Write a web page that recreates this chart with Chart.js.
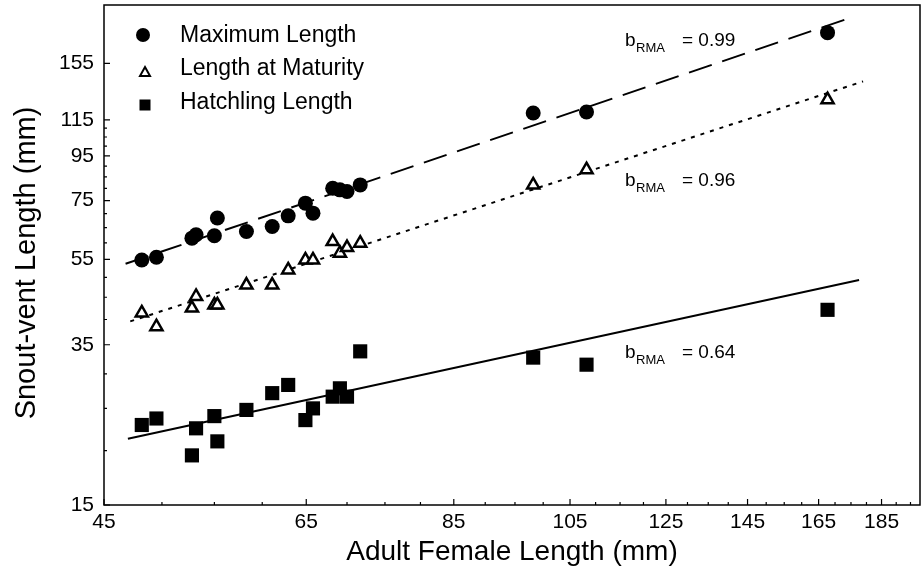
<!DOCTYPE html>
<html>
<head>
<meta charset="utf-8">
<script src="https://cdn.jsdelivr.net/npm/chart.js@4.4.1/dist/chart.umd.min.js"></script>
<style>
  html, body { margin: 0; padding: 0; background: #fff; overflow: hidden; }
  #wrap { width: 923px; height: 579px; }
  canvas { display: block; }
</style>
</head>
<body>
<div id="wrap"><canvas id="chart" width="923" height="579"></canvas></div>
<script>
// one value per species (mm)
const femaleLength = [48.2, 49.5, 52.8, 53.2, 55.0, 55.3, 58.3, 61.1, 62.9, 64.9, 65.8, 68.2, 69.1, 70.0, 71.7, 98.2, 108.2, 167.7];
const maxLength = [54.8, 55.6, 61.5, 62.6, 62.3, 68.4, 63.7, 65.4, 69.2, 74.0, 70.2, 80.1, 79.4, 78.7, 81.5, 119.2, 119.8, 182.3];
const maturityLength = [41.4, 38.5, 42.5, 45.2, 43.2, 43.2, 48.0, 48.0, 52.0, 54.8, 54.8, 60.4, 56.8, 58.5, 59.9, 81.5, 88.3, 127.9];
const hatchlingLength = [22.9, 23.7, 19.5, 22.5, 24.0, 21.0, 24.8, 27.1, 28.3, 23.5, 25.0, 26.6, 27.8, 26.6, 33.8, 32.7, 31.5, 42.1];

// RMA fit lines, end points
const maxFitX = [46.8, 174.7];
const maxFitY = [53.7, 197.0];
const matFitX = [47.2, 178.9];
const matFitY = [39.6, 140.9];
const hatchFitX = [47.0, 177.6];
const hatchFitY = [21.3, 49.3];

const slopes = ['0.99', '0.96', '0.64'];
const seriesNames = ['Maximum Length', 'Length at Maturity', 'Hatchling Length'];

const xTickValues = [45, 65, 85, 105, 125, 145, 165, 185];
const yTickValues = [15, 35, 55, 75, 95, 115, 155];

const FONT = "'Liberation Sans', Arial, sans-serif";

function pts(xs, ys) {
  return xs.map((x, i) => ({ x: x, y: ys[i] }));
}

// minor ticks every 5 mm
const xMinor = [];
for (let v = 50; v <= 195; v += 5) if (!xTickValues.includes(v)) xMinor.push(v);
const yMinor = [];
for (let v = 20; v <= 110; v += 5) if (!yTickValues.includes(v)) yMinor.push(v);

const frameAndTicks = {
  id: 'frameAndTicks',
  afterDraw(chart) {
    const { ctx, chartArea: a, scales } = chart;
    const x = scales.x, y = scales.y;
    ctx.save();
    ctx.strokeStyle = '#000';
    ctx.lineWidth = 1.5;
    ctx.strokeRect(a.left, a.top, a.right - a.left, a.bottom - a.top);

    // ticks point inward
    ctx.lineWidth = 1.2;
    ctx.beginPath();
    xMinor.forEach(v => { const p = x.getPixelForValue(v); ctx.moveTo(p, a.bottom); ctx.lineTo(p, a.bottom - 3); });
    xTickValues.forEach(v => { const p = x.getPixelForValue(v); ctx.moveTo(p, a.bottom); ctx.lineTo(p, a.bottom - 6); });
    yMinor.forEach(v => { const p = y.getPixelForValue(v); ctx.moveTo(a.left, p); ctx.lineTo(a.left + 3, p); });
    yTickValues.forEach(v => { const p = y.getPixelForValue(v); ctx.moveTo(a.left, p); ctx.lineTo(a.left + 6, p); });
    ctx.stroke();

    // y title, a bit below the centre like the original
    ctx.fillStyle = '#000';
    ctx.save();
    ctx.translate(27, 263);
    ctx.rotate(-Math.PI / 2);
    ctx.font = '29px ' + FONT;
    ctx.textAlign = 'center';
    ctx.textBaseline = 'middle';
    ctx.fillText('Snout-vent Length (mm)', 0, 0);
    ctx.restore();

    // legend (top left, inside the plot)
    ctx.beginPath();
    ctx.arc(143, 35, 7, 0, Math.PI * 2);
    ctx.fill();
    ctx.lineWidth = 2;
    ctx.beginPath();
    ctx.moveTo(145, 67);
    ctx.lineTo(150, 76);
    ctx.lineTo(140, 76);
    ctx.closePath();
    ctx.stroke();
    ctx.fillRect(139.5, 99.5, 11, 11);

    ctx.font = '23px ' + FONT;
    ctx.textAlign = 'left';
    ctx.textBaseline = 'alphabetic';
    [42, 75, 109].forEach((b, i) => ctx.fillText(seriesNames[i], 180, b));

    // slope notes
    [45.5, 186, 358].forEach((b, i) => {
      ctx.font = '19px ' + FONT;
      ctx.fillText('b', 625, b);
      ctx.font = '13px ' + FONT;
      ctx.fillText('RMA', 636, b + 6);
      ctx.font = '19px ' + FONT;
      ctx.fillText('= ' + slopes[i], 682, b);
    });
    ctx.restore();
  }
};

new Chart(document.getElementById('chart'), {
  type: 'scatter',
  data: {
    datasets: [
      { label: seriesNames[0], data: pts(femaleLength, maxLength), pointStyle: 'circle', pointRadius: 7.5,
        backgroundColor: '#000', borderColor: '#000', borderWidth: 0 },
      { label: seriesNames[1], data: pts(femaleLength, maturityLength), pointStyle: 'triangle', pointRadius: 7,
        backgroundColor: '#fff', borderColor: '#000', borderWidth: 2.5 },
      { label: seriesNames[2], data: pts(femaleLength, hatchlingLength), pointStyle: 'rect', pointRadius: 10,
        backgroundColor: '#000', borderColor: '#000', borderWidth: 0 },
      { type: 'line', data: pts(maxFitX, maxFitY), showLine: true, pointRadius: 0, borderColor: '#000',
        borderWidth: 2, borderDash: [24, 11], fill: false },
      { type: 'line', data: pts(matFitX, matFitY), showLine: true, pointRadius: 0, borderColor: '#000',
        borderWidth: 2, borderDash: [4, 6], fill: false },
      { type: 'line', data: pts(hatchFitX, hatchFitY), showLine: true, pointRadius: 0, borderColor: '#000',
        borderWidth: 2, fill: false }
    ]
  },
  options: {
    responsive: false,
    animation: false,
    events: [],
    layout: { autoPadding: false, padding: { top: 5, right: 3, left: 0, bottom: 0 } },
    plugins: { legend: { display: false }, tooltip: { enabled: false } },
    scales: {
      x: {
        type: 'logarithmic', min: 45, max: 198.4, bounds: 'data',
        afterBuildTicks: s => { s.ticks = xTickValues.map(v => ({ value: v })); },
        afterFit: s => { s.height = 74; s.paddingLeft = 0; s.paddingRight = 0; s.paddingTop = 0; s.paddingBottom = 0; },
        grid: { display: false, drawTicks: false },
        border: { display: false },
        ticks: { autoSkip: false, maxRotation: 0, padding: 5, color: '#000',
          font: { family: FONT, size: 21 }, callback: v => String(v) },
        title: { display: true, text: 'Adult Female Length (mm)', color: '#000',
          font: { family: FONT, size: 28 }, padding: { top: 0, bottom: 10 } }
      },
      y: {
        type: 'logarithmic', min: 15, max: 211, bounds: 'data',
        afterBuildTicks: s => { s.ticks = yTickValues.map(v => ({ value: v })); },
        afterFit: s => { s.width = 104; s.paddingLeft = 0; s.paddingRight = 0; s.paddingTop = 0; s.paddingBottom = 0; },
        grid: { display: false, drawTicks: false },
        border: { display: false },
        ticks: { autoSkip: false, padding: 10, color: '#000',
          font: { family: FONT, size: 21 }, callback: v => String(v) }
      }
    }
  },
  plugins: [frameAndTicks]
});
</script>
</body>
</html>
